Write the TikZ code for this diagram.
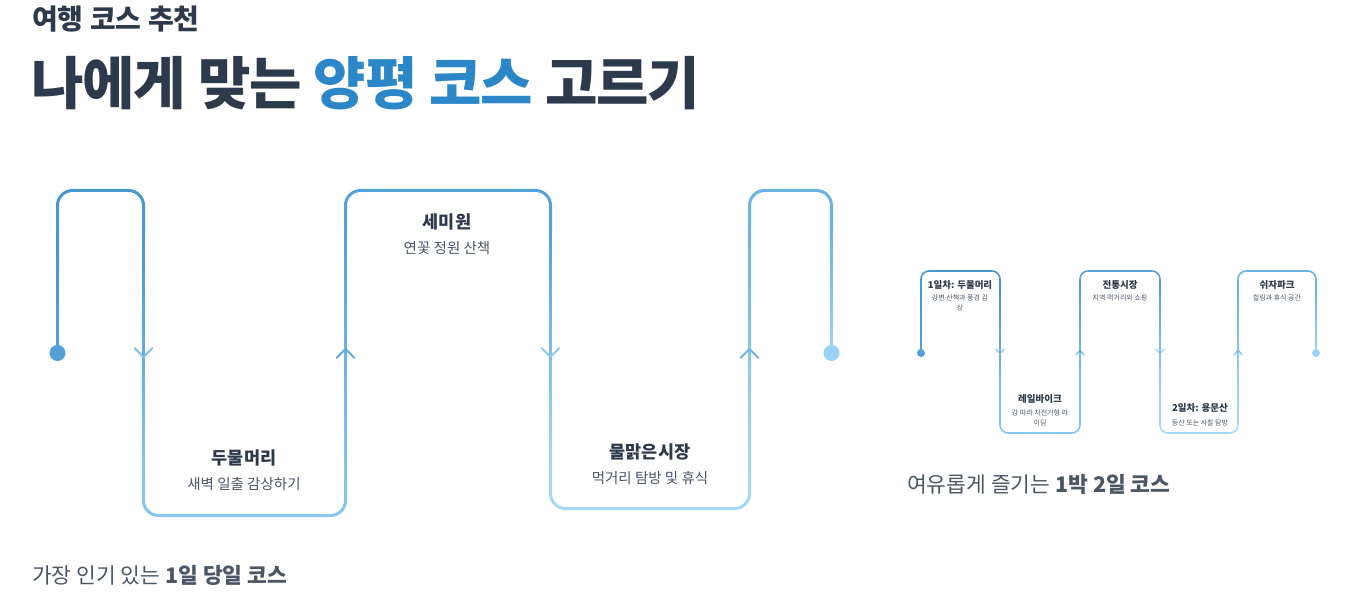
\documentclass[tikz,border=0pt]{standalone}
\usepackage{fontspec}
\setmainfont{Noto Sans CJK KR}
\definecolor{ink}{HTML}{2D3A4B}
\definecolor{sub}{HTML}{4A5568}
\definecolor{accent}{HTML}{2B87C8}
\definecolor{ca}{HTML}{4797D0}
\definecolor{cb}{HTML}{85C5EE}
\definecolor{cc}{HTML}{55A2D8}
\definecolor{cd}{HTML}{A5D8F7}
\definecolor{ce}{HTML}{6BB3E4}
\definecolor{cf}{HTML}{9BD3F6}
\definecolor{cs}{HTML}{52A0D6}
% gradient leg: x, ytop, ybottom, top colour, bottom colour, line width
\newcommand{\gleg}[6]{%
  \foreach \i in {0,...,23}{%
    \pgfmathsetmacro{\ya}{#2+(#3-#2)*\i/24}%
    \pgfmathsetmacro{\yb}{min(#3,#2+(#3-#2)*(\i+1)/24+1)}%
    \pgfmathtruncatemacro{\p}{100-100*\i/23}%
    \draw[line width=#6, color=#4!\p!#5] (#1,\ya) -- (#1,\yb);
  }}
\begin{document}
\begin{tikzpicture}[x=1pt,y=-1pt,
  txt/.style={inner sep=0pt, text=ink},
  bigtitle/.style={txt, anchor=west, font=\bfseries\fontsize{57}{60}\selectfont\addfontfeature{LetterSpace=-2}},
  pretitle/.style={txt, anchor=west, font=\bfseries\fontsize{28}{30}\selectfont},
  caption/.style={txt, anchor=west, text=ink!85, font=\fontsize{21.5}{24}\selectfont},
  stoptitle/.style={txt, font=\bfseries\fontsize{17.5}{20}\selectfont},
  stopsub/.style={txt, text=sub, font=\fontsize{14.5}{17}\selectfont},
  smalltitle/.style={txt, font=\bfseries\fontsize{9.5}{11}\selectfont},
  smallsub/.style={txt, text=sub, align=center, font=\fontsize{7}{9.5}\selectfont},
  bigline/.style={line width=3pt, rounded corners=15pt},
  smallline/.style={line width=1.6pt, rounded corners=8pt},
  chev/.style={line width=1.8pt, line cap=round, line join=round},
  chevs/.style={line width=1pt, line cap=round, line join=round}]
\useasboundingbox (0,0) rectangle (1350,599);

% headings
\node[pretitle] (pre) at (32,19) {여행 코스 추천};
\node[bigtitle] (title) at (31,83) {나에게 맞는 \textcolor{accent}{양평 코스} 고르기};

% ---------- left: one-day course ----------
\coordinate (s1) at (57.5,353);
\coordinate (e1) at (831.5,353);
\draw[bigline, ca] (57.5,230) -- (57.5,190.5) -- (143.5,190.5) -- (143.5,230);
\gleg{57.5}{229.5}{353}{ca}{cs}{3pt}
\gleg{143.5}{229.5}{480}{ca}{cb}{3pt}
\draw[bigline, cb] (143.5,479.5) -- (143.5,515.5) -- (345.5,515.5) -- (345.5,479.5);
\gleg{345.5}{229.5}{480}{cc}{cb}{3pt}
\draw[bigline, cc] (345.5,230) -- (345.5,190.5) -- (550.5,190.5) -- (550.5,230);
\gleg{550.5}{229.5}{473}{cc}{cd}{3pt}
\draw[bigline, cd] (550.5,472.5) -- (550.5,508.5) -- (749.5,508.5) -- (749.5,472.5);
\gleg{749.5}{229.5}{473}{ce}{cd}{3pt}
\draw[bigline, ce] (749.5,230) -- (749.5,190.5) -- (831.5,190.5) -- (831.5,230);
\gleg{831.5}{229.5}{353}{ce}{cf}{3pt}
\fill[cs] (s1) circle (8);
\fill[cf] (e1) circle (8);
% direction chevrons
\draw[chev, color=cb!90!ca] (134.5,348) -- (143.5,357) -- (152.5,348);
\draw[chev, color=cc!80!cb] (336.5,358) -- (345.5,349) -- (354.5,358);
\draw[chev, color=cd!70!cc] (541.5,348) -- (550.5,357) -- (559.5,348);
\draw[chev, color=ce] (740.5,358) -- (749.5,349) -- (758.5,358);

% stop labels
\node[stoptitle] (semi) at (447,222) {세미원};
\node[stopsub] (semisub) at (447,248) {연꽃 정원 산책};
\node[stoptitle] (dumul) at (244,458) {두물머리};
\node[stopsub] (dumulsub) at (244,484) {새벽 일출 감상하기};
\node[stoptitle] (market) at (650,452) {물맑은시장};
\node[stopsub] (marketsub) at (650,478) {먹거리 탐방 및 휴식};

\node[caption] (cap1) at (32,575) {가장 인기 있는 \textbf{1일 당일 코스}};

% ---------- right: two-day course ----------
\coordinate (s2) at (921,353);
\coordinate (e2) at (1316,353);
\draw[smallline, ca] (921,290) -- (921,271) -- (1000,271) -- (1000,290);
\gleg{921}{289.5}{353}{ca}{cs}{1.6pt}
\gleg{1000}{289.5}{415}{ca}{cb}{1.6pt}
\draw[smallline, cb] (1000,414.5) -- (1000,433) -- (1080,433) -- (1080,414.5);
\gleg{1080}{289.5}{415}{cc}{cb}{1.6pt}
\draw[smallline, cc] (1080,290) -- (1080,271) -- (1160,271) -- (1160,290);
\gleg{1160}{289.5}{415}{cc}{cd}{1.6pt}
\draw[smallline, cd] (1160,414.5) -- (1160,433) -- (1238,433) -- (1238,414.5);
\gleg{1238}{289.5}{415}{ce}{cd}{1.6pt}
\draw[smallline, ce] (1238,290) -- (1238,271) -- (1316,271) -- (1316,290);
\gleg{1316}{289.5}{353}{ce}{cf}{1.6pt}
\fill[cs] (s2) circle (4);
\fill[cf] (e2) circle (4);
\draw[chevs, color=cb!90!ca] (996,349) -- (1000,354) -- (1004,349);
\draw[chevs, color=cc!80!cb] (1076,355) -- (1080,350) -- (1084,355);
\draw[chevs, color=cd!70!cc] (1156,349) -- (1160,354) -- (1164,349);
\draw[chevs, color=ce] (1234,355) -- (1238,350) -- (1242,355);

\node[smalltitle] (d1) at (960,285) {1일차: 두물머리};
\node[smallsub] (d1sub) at (960,303) {강변 산책과 풍경 감\\상};
\node[smalltitle] (rail) at (1040,399) {레일바이크};
\node[smallsub] (railsub) at (1040,418) {강 따라 자전거형 라\\이딩};
\node[smalltitle] (trad) at (1120,285) {전통시장};
\node[smallsub] (tradsub) at (1120,298) {지역 먹거리와 쇼핑};
\node[smalltitle] (d2) at (1200,408) {2일차: 용문산};
\node[smallsub] (d2sub) at (1200,423) {등산 또는 사찰 탐방};
\node[smalltitle] (park) at (1277,285) {쉬자파크};
\node[smallsub] (parksub) at (1277,298) {힐링과 휴식 공간};

\node[caption] (cap2) at (907,484) {여유롭게 즐기는 \textbf{1박 2일 코스}};
\end{tikzpicture}
\end{document}
